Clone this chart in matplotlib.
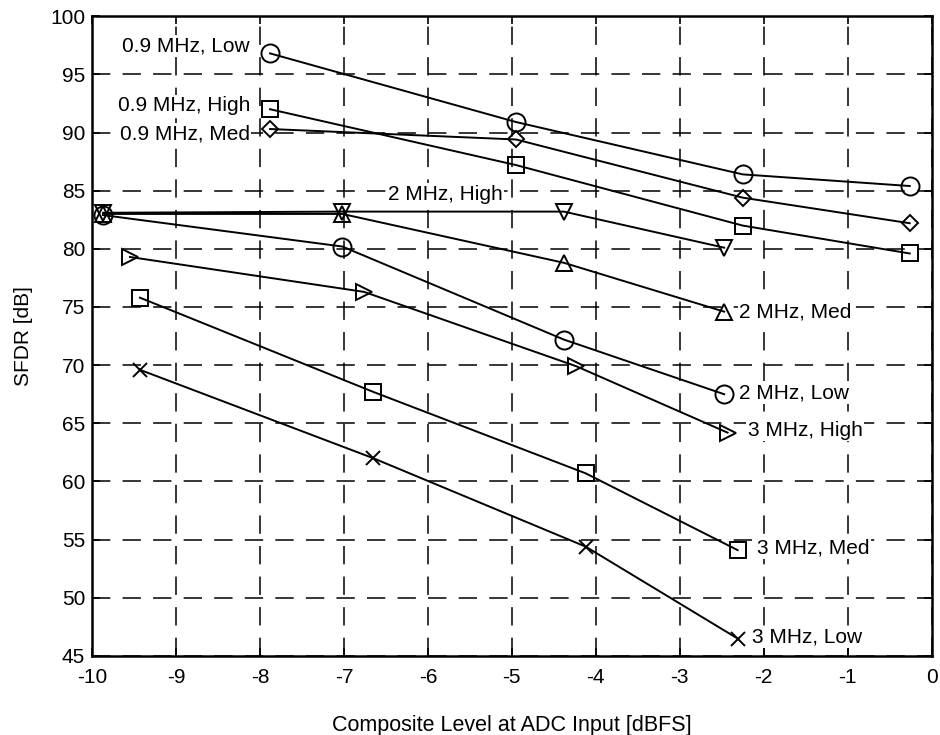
import matplotlib
matplotlib.use('Agg')
import matplotlib.pyplot as plt

plt.rcParams['font.family'] = ['Liberation Sans', 'DejaVu Sans']
plt.rcParams['axes.unicode_minus'] = False

# series: x [dBFS], SFDR [dB]
x_09 = [-7.88, -4.95, -2.25, -0.26]
low_09 = [96.8, 90.9, 86.4, 85.4]
high_09 = [92.0, 87.2, 82.0, 79.6]
med_09 = [90.3, 89.4, 84.4, 82.2]

x_2 = [-9.87, -7.02, -4.38, -2.47]
high_2 = [83.1, 83.2, 83.2, 80.1]
med_2 = [83.0, 83.0, 78.8, 74.6]
low_2 = [82.9, 80.2, 72.2, 67.5]

x_3high = [-9.55, -6.76, -4.23, -2.43]
high_3 = [79.3, 76.3, 69.9, 64.2]
x_3 = [-9.43, -6.65, -4.12, -2.31]
med_3 = [75.8, 67.7, 60.7, 54.1]
low_3 = [69.6, 62.0, 54.4, 46.5]

series = [
    (x_09, low_09, 'o', '0.9 MHz, Low'),
    (x_09, high_09, 's', '0.9 MHz, High'),
    (x_09, med_09, 'D', '0.9 MHz, Med'),
    (x_2, high_2, 'v', '2 MHz, High'),
    (x_2, med_2, '^', '2 MHz, Med'),
    (x_2, low_2, 'o', '2 MHz, Low'),
    (x_3high, high_3, '>', '3 MHz, High'),
    (x_3, med_3, 's', '3 MHz, Med'),
    (x_3, low_3, 'x', '3 MHz, Low'),
]
msize = {'o': 13, 's': 11, 'D': 8, 'v': 12, '^': 12, '>': 12, 'x': 10}

fig = plt.figure(figsize=(9.4, 7.35), dpi=100)
ax = fig.add_axes([0.098, 0.1075, 0.893, 0.8705])

for xs, ys, m, lab in series:
    ax.plot(xs, ys, color='black', lw=1.4, marker=m, ms=msize[m],
            mfc='none', mec='black', mew=1.4, label=lab, zorder=3)

# curve labels, white box hides the grid behind them
fs = 15
box = dict(facecolor='white', edgecolor='none', pad=1)
labels = [
    (-8.12, 97.4, '0.9 MHz, Low', 'right'),
    (-8.12, 92.3, '0.9 MHz, High', 'right'),
    (-8.12, 89.9, '0.9 MHz, Med', 'right'),
    (-5.79, 84.7, '2 MHz, High', 'center'),
    (-2.29, 74.6, '2 MHz, Med', 'left'),
    (-2.29, 67.6, '2 MHz, Low', 'left'),
    (-2.19, 64.4, '3 MHz, High', 'left'),
    (-2.08, 54.3, '3 MHz, Med', 'left'),
    (-2.14, 46.6, '3 MHz, Low', 'left'),
]
for lx, ly, txt, ha in labels:
    ax.text(lx, ly, txt, ha=ha, va='center', fontsize=fs, bbox=box, zorder=2)

ax.set_xlim(-10, 0)
ax.set_ylim(45, 100)
ax.set_xticks(range(-10, 1))
ax.set_yticks(range(45, 101, 5))
ax.set_axisbelow(True)
ax.grid(True, color='black', lw=1.1, linestyle=(0, (12, 8)))
ax.tick_params(direction='in', top=True, right=True, length=6, width=1.2,
               labelsize=15, pad=5)
ax.tick_params(axis='x', pad=9)
for s in ax.spines.values():
    s.set_linewidth(1.8)

ax.set_xlabel('Composite Level at ADC Input [dBFS]', fontsize=15.5, labelpad=20)
ax.set_ylabel('SFDR [dB]', fontsize=15, labelpad=12)

fig.savefig('out.png', dpi=100)
